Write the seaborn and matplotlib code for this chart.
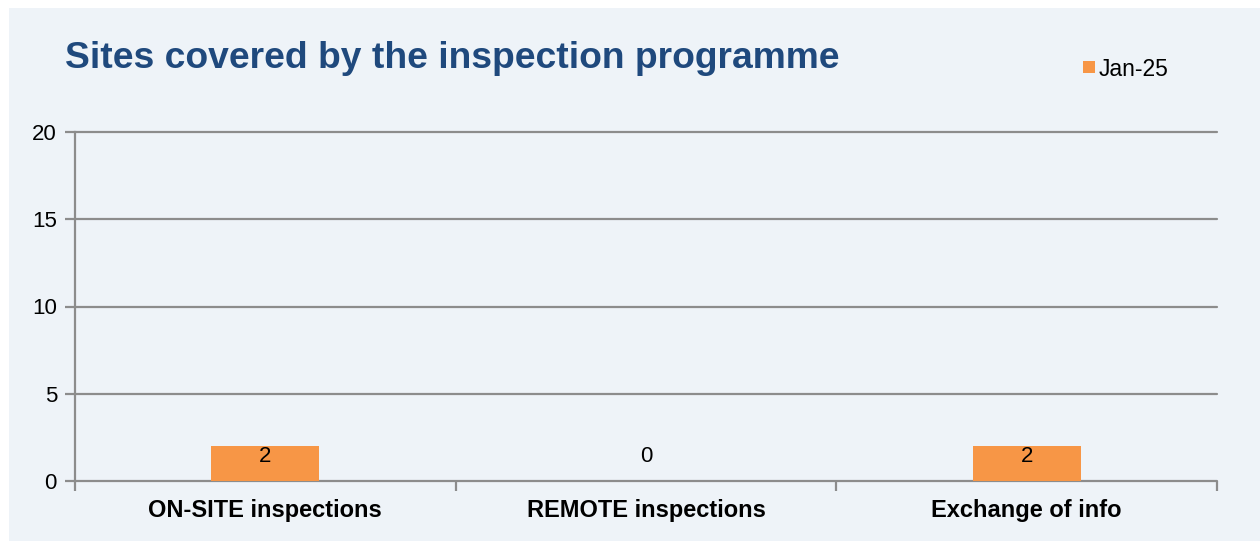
import matplotlib
matplotlib.use("Agg")
import matplotlib.pyplot as plt
from matplotlib.patches import Rectangle
import pandas as pd
import seaborn as sns

categories = ["ON-SITE inspections", "REMOTE inspections", "Exchange of info"]
values = [2, 0, 2]
series_name = "Jan-25"
y_ticks = [0, 5, 10, 15, 20]
title = "Sites covered by the inspection programme"

bg = "#EEF3F8"
orange = "#F79646"
grid_col = "#8C8C8C"
title_col = "#1F497D"

sns.set_style("white")
plt.rcParams["font.family"] = ["Liberation Sans", "DejaVu Sans"]

df = pd.DataFrame({"category": categories, "value": values, "series": series_name})

fig = plt.figure(figsize=(12.6, 5.41), dpi=100, facecolor="white")
fig.patches.append(Rectangle((9 / 1260, 0), 1 - 9 / 1260, 1 - 8 / 541,
                             transform=fig.transFigure, facecolor=bg,
                             edgecolor="none", zorder=-5))

ax = fig.add_axes([75 / 1260, 60 / 541, (1217 - 75) / 1260, (481 - 132) / 541])
ax.set_facecolor("none")

sns.barplot(data=df, x="category", y="value", hue="series", palette=[orange],
            saturation=1, width=0.284, ax=ax, legend=False, zorder=3,
            edgecolor="none", linewidth=0)

ax.set_ylim(0, 20)
ax.set_xlim(-0.5, len(categories) - 0.5)
ax.set_yticks(y_ticks)
ax.yaxis.grid(True, color=grid_col, linewidth=1.6, zorder=1)
ax.set_axisbelow(True)
for gl in ax.get_ygridlines():
    gl.set_clip_on(False)

for side in ["top", "right", "bottom"]:
    ax.spines[side].set_visible(False)
ax.spines["left"].set_color(grid_col)
ax.spines["left"].set_linewidth(1.6)

ax.tick_params(axis="y", length=7, width=1.6, color=grid_col, labelsize=16,
               labelcolor="black", pad=6, left=True)
ax.set_xticks(range(len(categories)))
ax.set_xticklabels(categories, fontsize=17, fontweight="bold", color="black")
ax.tick_params(axis="x", length=0, pad=13)
# category boundary ticks
ax.set_xticks([i - 0.5 for i in range(len(categories) + 1)], minor=True)
ax.tick_params(axis="x", which="minor", length=7, width=1.6, color=grid_col, bottom=True)
ax.set_xlabel("")
ax.set_ylabel("")

# value labels
for i, v in enumerate(values):
    ax.text(i, 1.4, str(v), ha="center", va="center", fontsize=16, color="black", zorder=4)

fig.text(65 / 1260, 1 - 59 / 541, title, fontsize=26.8, fontweight="bold",
         color=title_col, ha="left", va="center")

# legend
fig.patches.append(Rectangle((1083 / 1260, 1 - 73 / 541), 12 / 1260, 12 / 541,
                             transform=fig.transFigure, facecolor=orange,
                             edgecolor="none", zorder=2))
fig.text(1099 / 1260, 1 - 69 / 541, series_name, fontsize=16.5, color="black",
         ha="left", va="center")

fig.savefig("out.png", dpi=100, facecolor="white")
